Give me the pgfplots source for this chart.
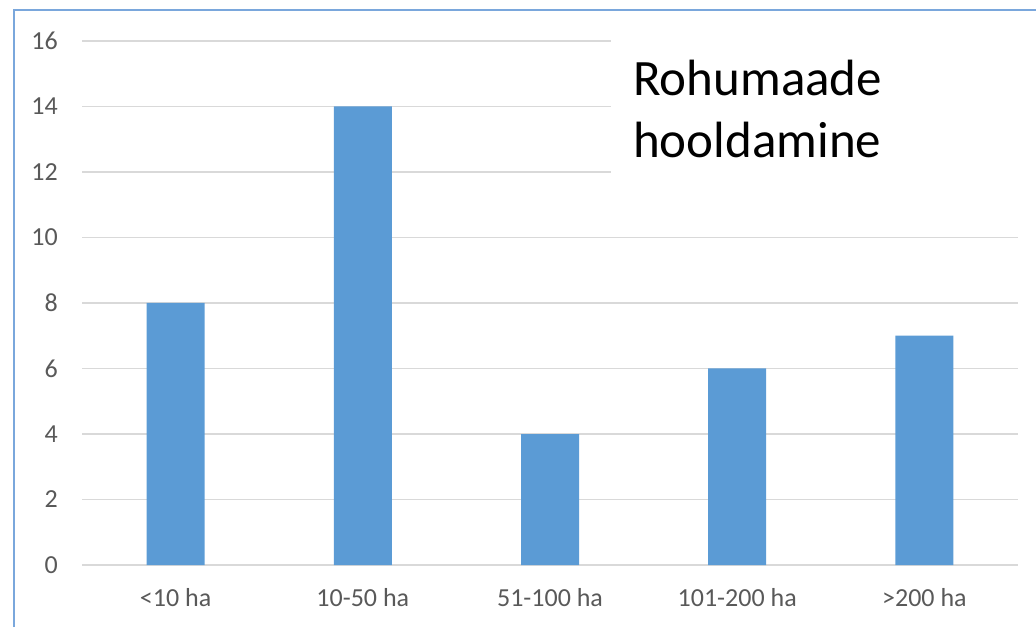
\documentclass[border=0pt]{standalone}
\usepackage{fontspec}
\setmainfont{Carlito}
\usepackage{pgfplots}
\pgfplotsset{compat=1.18}
\definecolor{barblue}{HTML}{5B9BD5}
\definecolor{gridgray}{HTML}{D9D9D9}
\definecolor{ticktext}{HTML}{595959}
\definecolor{framecol}{HTML}{7AA7DC}
\begin{document}
\begin{tikzpicture}[x=1pt,y=1pt]
\useasboundingbox (0,0) rectangle (1036,627);
\draw[framecol, line width=2pt] (14,0) -- (14,617) -- (1036,617);
\begin{axis}[
  at={(82pt,62pt)}, anchor=south west,
  scale only axis, width=936pt, height=524pt,
  xmin=-0.5, xmax=4.5, ymin=0, ymax=16,
  xtick={0,1,2,3,4},
  xticklabels={{<10 ha},{10-50 ha},{51-100 ha},{101-200 ha},{>200 ha}},
  ytick={0,2,...,16},
  ymajorgrids, grid style={gridgray, line width=1.5pt},
  axis line style={draw=none},
  major tick length=0pt,
  tick style={draw=none},
  /pgf/number format/assume math mode=true,
  yticklabel style={font=\fontsize{26}{30}\selectfont, text=ticktext, anchor=east, inner sep=0pt, xshift=-24pt},
  xticklabel style={font=\fontsize{26}{30}\selectfont, text=ticktext, anchor=base, inner sep=0pt, yshift=-41pt},
  clip=false,
]
\addplot[ybar, bar width=58pt, fill=barblue, draw=none] coordinates {(0,8) (1,14) (2,4) (3,6) (4,7)};
\end{axis}
\fill[white] (611,427) rectangle (1036,598);
\node[anchor=base west, inner sep=0pt, font=\fontsize{51}{61}\selectfont] at (633,531) {Rohumaade};
\node[anchor=base west, inner sep=0pt, font=\fontsize{51}{61}\selectfont] at (633,469) {hooldamine};
\end{tikzpicture}
\end{document}
